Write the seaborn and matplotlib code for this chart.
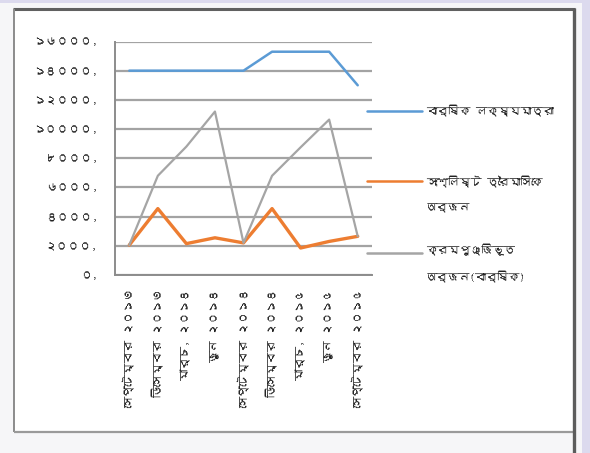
import numpy as np
import pandas as pd
import matplotlib
matplotlib.use("Agg")
import matplotlib.pyplot as plt
import seaborn as sns
from matplotlib.lines import Line2D
from matplotlib.patches import Rectangle
from matplotlib import font_manager
from matplotlib.ft2font import FT2Font

# ---- data -------------------------------------------------------------
quarters = [
    "সেপ্টেম্বর ২০১৩", "ডিসেম্বর ২০১৩", "মার্চ, ২০১৪", "জুন ২০১৪",
    "সেপ্টেম্বর ২০১৪", "ডিসেম্বর ২০১৪", "মার্চ, ২০১৫", "জুন ২০১৫",
    "সেপ্টেম্বর ২০১৫",
]
annual_target = [14000, 14000, 14000, 14000, 14000, 15300, 15300, 15300, 13000]
quarterly_achievement = [2050, 4550, 2150, 2550, 2200, 4550, 1850, 2300, 2650]
cumulative_achievement = [2050, 6800, 8800, 11200, 2200, 6800, 8750, 10650, 2650]

series_names = [
    "বার্ষিক লক্ষ্যমাত্রা",
    "সংশ্লিষ্ট ত্রৈমাসিকে\nঅর্জন",
    "ক্রমপুঞ্জিভূত\nঅর্জন(বার্ষিক)",
]
series_colors = ["#5B9BD5", "#ED7D31", "#A5A5A5"]

ytick_values = [0, 2000, 4000, 6000, 8000, 10000, 12000, 14000, 16000]
ytick_labels = ["০,", "২০০০,", "৪০০০,", "৬০০০,", "৮০০০,",
                "১০০০০,", "১২০০০,", "১৪০০০,", "১৬০০০,"]

# ---- fonts ------------------------------------------------------------
sns.set_style("white")


def find_bengali_family():
    for entry in font_manager.fontManager.ttflist:
        try:
            if FT2Font(entry.fname).get_char_index(ord("ক")):
                return entry.name
        except Exception:
            continue
    return None


bn = find_bengali_family()
plt.rcParams["font.family"] = ([bn] if bn else []) + ["DejaVu Sans"]

# ---- figure -----------------------------------------------------------
W, H = 590, 453
fig = plt.figure(figsize=(W / 100, H / 100), dpi=100)
fig.patch.set_facecolor("#f6f6f8")


def fx(px):
    return px / W


def fy(py):
    return 1 - py / H


# page frame around the chart
fig.add_artist(Rectangle((fx(582), 0), fx(8), 1, transform=fig.transFigure,
                         facecolor="#dcdaee", edgecolor="none", zorder=0))
fig.add_artist(Rectangle((0, fy(3)), 1, 3 / H, transform=fig.transFigure,
                         facecolor="#dcdaee", edgecolor="none", zorder=0))
fig.add_artist(Rectangle((fx(14), fy(432)), fx(574 - 14), (432 - 9) / H,
                         transform=fig.transFigure, facecolor="white",
                         edgecolor="none", zorder=0))
frame_kw = dict(transform=fig.transFigure, zorder=1, solid_capstyle="butt")
fig.add_artist(Line2D([fx(13), fx(575)], [fy(9), fy(9)], color="#606060", lw=2.2, **frame_kw))
fig.add_artist(Line2D([fx(14), fx(14)], [fy(9), fy(432)], color="#8c8c8c", lw=1.4, **frame_kw))
fig.add_artist(Line2D([fx(14), fx(575)], [fy(432), fy(432)], color="#9a9a9a", lw=1.6, **frame_kw))
fig.add_artist(Line2D([fx(574), fx(574)], [fy(8), fy(453)], color="#5c5c5c", lw=2.4, **frame_kw))

# ---- axes -------------------------------------------------------------
left, right, top, bottom = 115, 372, 41.5, 275
ax = fig.add_axes([fx(left), fy(bottom), fx(right - left), (bottom - top) / H])
ax.set_facecolor("none")

pos = np.arange(len(quarters))
df = pd.DataFrame({
    "pos": np.tile(pos, 3),
    "value": annual_target + quarterly_achievement + cumulative_achievement,
    "series": np.repeat(series_names, len(quarters)),
})
sns.lineplot(data=df, x="pos", y="value", hue="series", hue_order=series_names,
             palette=series_colors, legend=False, ax=ax, zorder=3)
for line, lw in zip(ax.get_lines(), [1.8, 2.4, 1.6]):
    line.set_linewidth(lw)

ax.set_xlim(-0.5, len(quarters) - 0.5)
ax.set_ylim(0, 16000)
ax.set_xlabel("")
ax.set_ylabel("")

ax.set_yticks(ytick_values)
ax.set_yticklabels(ytick_labels, fontsize=8.5, color="#222222")
ax.set_xticks(pos)
ax.set_xticklabels(quarters, rotation=90, fontsize=8.2, color="#222222", va="top")
ax.set_xticks(np.arange(-0.5, len(quarters)), minor=True)

ax.tick_params(axis="x", which="major", length=0, pad=10)
ax.tick_params(axis="x", which="minor", length=4.5, width=1.2, color="#8c8c8c", direction="out")
ax.tick_params(axis="y", which="major", length=4.5, width=1.2, color="#8c8c8c",
               direction="out", pad=8)

ax.yaxis.grid(True, color="#a3a3a3", lw=1.6)
ax.set_axisbelow(True)
for side in ("top", "right"):
    ax.spines[side].set_visible(False)
for side in ("left", "bottom"):
    ax.spines[side].set_color("#8c8c8c")
    ax.spines[side].set_linewidth(1.4)

# ---- legend -----------------------------------------------------------
legend_rows = [(111, [111]), (181, [182, 208]), (253, [250, 277])]
for name, color, (line_y, text_ys) in zip(series_names, series_colors, legend_rows):
    fig.add_artist(Line2D([fx(367), fx(422)], [fy(line_y), fy(line_y)],
                          transform=fig.transFigure, color=color, lw=1.8, zorder=4))
    for part, ty in zip(name.split("\n"), text_ys):
        fig.text(fx(426), fy(ty), part, fontsize=8, va="center", ha="left",
                 color="#222222")

fig.savefig("out.png", dpi=100, facecolor=fig.get_facecolor())
